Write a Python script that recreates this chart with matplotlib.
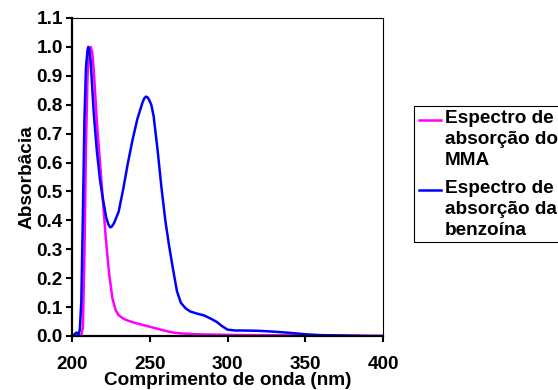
import matplotlib
matplotlib.use("Agg")
import matplotlib.pyplot as plt
from matplotlib.patches import Rectangle
from matplotlib.lines import Line2D

# Espectro de absorção do MMA
wl_mma = [200, 204, 206, 207, 208, 209, 210, 211, 212, 213, 214, 216, 218, 220,
          222, 224, 226, 228, 230, 233, 236, 240, 245, 250, 255, 260, 265, 270,
          280, 290, 300, 320, 350, 380, 400]
abs_mma = [0.0, 0.0, 0.003, 0.03, 0.28, 0.66, 0.9, 0.98, 1.0, 0.98, 0.92, 0.74,
           0.6, 0.46, 0.32, 0.21, 0.13, 0.09, 0.072, 0.06, 0.053, 0.046, 0.039,
           0.032, 0.025, 0.018, 0.012, 0.009, 0.006, 0.005, 0.004, 0.003, 0.002,
           0.001, 0.0]

# Espectro de absorção da benzoína
wl_benz = [200, 201, 202, 203, 204, 205, 206, 207, 208, 209, 210, 210.5, 211, 212,
           213, 214, 216, 218, 220, 222, 223.5, 224.5, 225.5, 227, 230, 233, 236,
           239, 242, 244, 245.5, 246.5, 247.5, 248.5, 249.5, 251, 252.5, 255,
           257.5, 260, 262.5, 265, 267.5, 270, 273, 276, 280, 285, 290, 293, 296,
           300, 305, 310, 320, 330, 340, 350, 360, 370, 380, 390, 400]
abs_benz = [0.0, 0.003, 0.008, 0.012, 0.004, 0.02, 0.12, 0.42, 0.75, 0.93, 0.99,
            1.0, 0.99, 0.95, 0.86, 0.77, 0.64, 0.54, 0.47, 0.41, 0.385, 0.376,
            0.378, 0.39, 0.43, 0.51, 0.6, 0.68, 0.75, 0.785, 0.81, 0.822, 0.828,
            0.826, 0.818, 0.80, 0.76, 0.645, 0.515, 0.40, 0.31, 0.23, 0.155,
            0.115, 0.096, 0.085, 0.078, 0.071, 0.058, 0.049, 0.036, 0.022, 0.019,
            0.019, 0.018, 0.015, 0.011, 0.006, 0.003, 0.002, 0.001, 0.0, 0.0]

labels = ["Espectro de\nabsorção do\nMMA", "Espectro de\nabsorção da\nbenzoína"]
colors = ["#FF00FF", "#0000FF"]

plt.rcParams['font.family'] = ['Liberation Sans', 'DejaVu Sans']
plt.rcParams['font.weight'] = 'bold'
FS = 13.7

W, H = 558, 390
fig = plt.figure(figsize=(W / 100, H / 100), dpi=100)
ax = fig.add_axes([72 / W, 1 - 336 / H, (383 - 72) / W, (336 - 18) / H])

ax.plot(wl_mma, abs_mma, color=colors[0], lw=1.8)
ax.plot(wl_benz, abs_benz, color=colors[1], lw=1.8)

ax.set_xlim(200, 400)
ax.set_ylim(0, 1.1)
ax.set_xticks([200, 250, 300, 350, 400])
ax.set_yticks([i / 10 for i in range(12)])
ax.set_yticklabels([f"{i / 10:.1f}" for i in range(12)])
ax.tick_params(direction='out', length=4.5, width=1.5, labelsize=FS)
ax.tick_params(axis='x', pad=10)
ax.tick_params(axis='y', pad=2)
for s in ['left', 'bottom']:
    ax.spines[s].set_linewidth(1.6)
for s in ['top', 'right']:
    ax.spines[s].set_linewidth(0.8)

ax.set_xlabel("Comprimento de onda (nm)", fontsize=FS, fontweight='bold', labelpad=-1)
ax.set_ylabel("Absorbâcia", fontsize=FS, fontweight='bold', labelpad=1)


# manual legend, box runs off the right edge like the original
def fx(px):
    return px / W


def fy(py):
    return 1 - py / H


fig.patches.append(Rectangle((fx(414), fy(242)), fx(600) - fx(414), fy(106) - fy(242),
                             transform=fig.transFigure, facecolor='white',
                             edgecolor='black', lw=0.8, clip_on=False))
tops = [110, 180]
for lab, col, top in zip(labels, colors, tops):
    fig.lines.append(Line2D([fx(419), fx(441)], [fy(top + 10), fy(top + 10)],
                            transform=fig.transFigure, color=col, lw=1.8))
    fig.text(fx(445), fy(top), lab, fontsize=FS, fontweight='bold', va='top',
             ha='left', linespacing=1.32)

fig.savefig("out.png", dpi=100)
